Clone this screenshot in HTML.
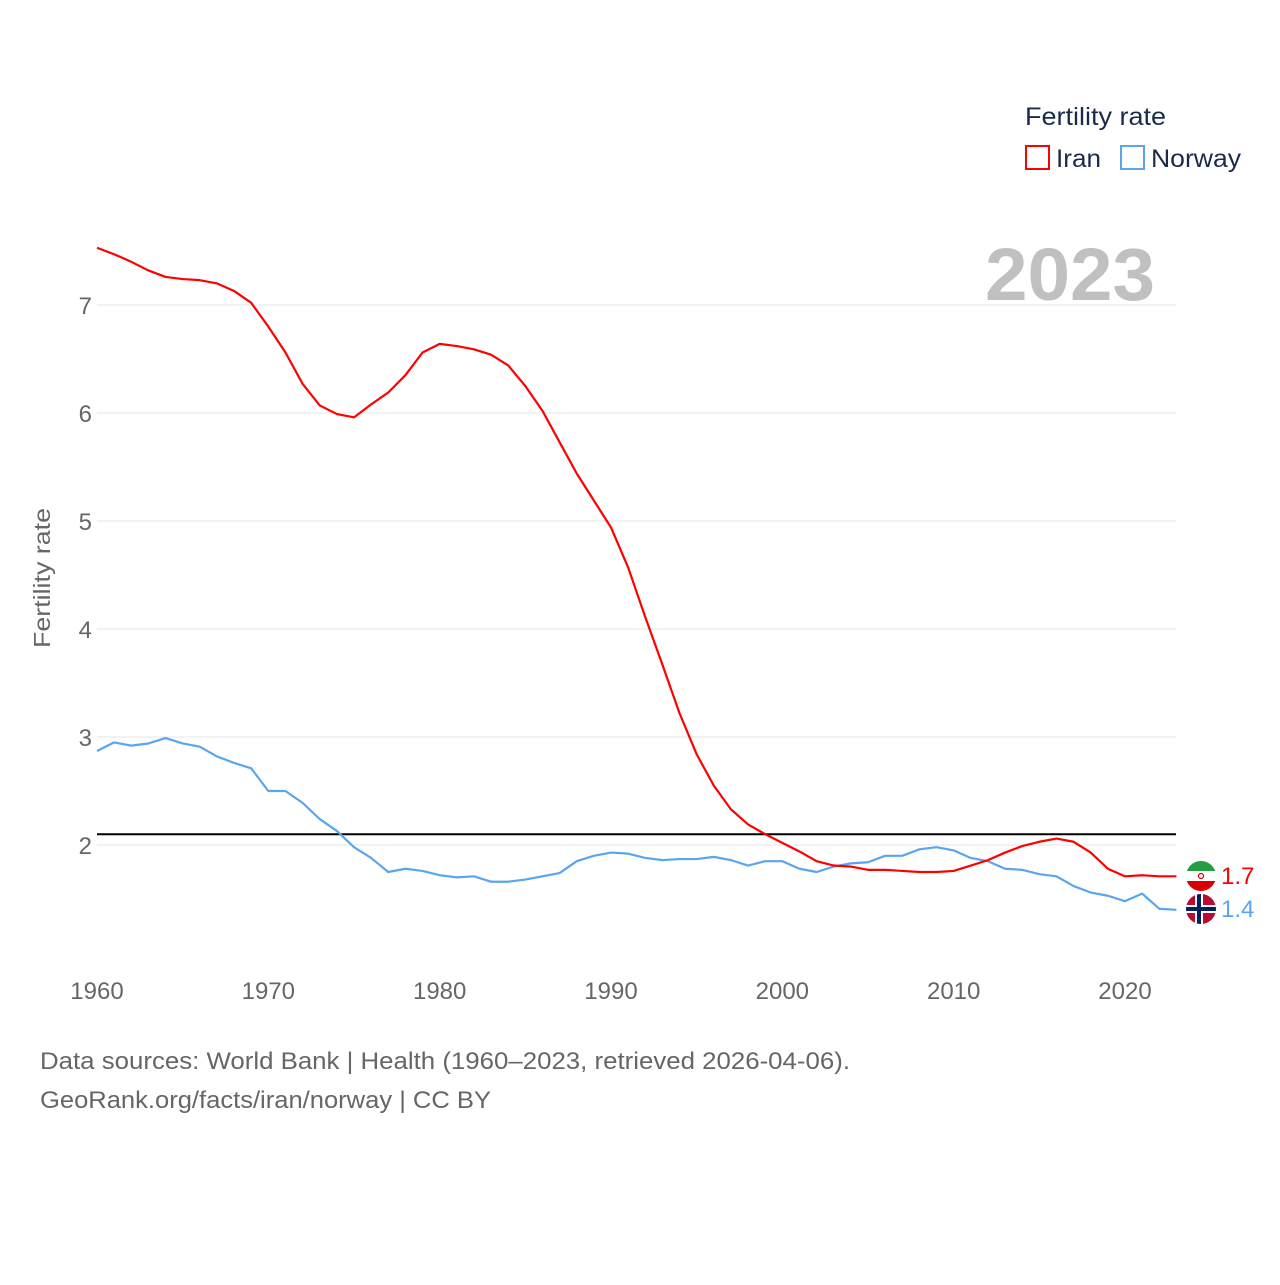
<!DOCTYPE html>
<html><head><meta charset="utf-8"><style>
body{margin:0;background:#fff;width:1280px;height:1280px;overflow:hidden;font-family:"Liberation Sans",sans-serif}
</style></head><body>
<svg id="chart" width="1280" height="1280" xmlns="http://www.w3.org/2000/svg" font-family="Liberation Sans, sans-serif">
<text x="1025" y="125" font-size="25" fill="#1a2b4a" textLength="141" lengthAdjust="spacingAndGlyphs">Fertility rate</text>
<g><rect x="1026" y="146" width="23" height="23" fill="none" stroke="#ff0000" stroke-width="2"/><text x="1056" y="167" font-size="25" fill="#1a2b4a" textLength="45" lengthAdjust="spacingAndGlyphs">Iran</text></g>
<g><rect x="1121" y="146" width="23" height="23" fill="none" stroke="#5aa5ee" stroke-width="2"/><text x="1151" y="167" font-size="25" fill="#1a2b4a" textLength="90" lengthAdjust="spacingAndGlyphs">Norway</text></g>
<text x="1155" y="300" font-size="74" font-weight="bold" fill="#c0c0c0" text-anchor="end" textLength="170" lengthAdjust="spacingAndGlyphs">2023</text>
<text transform="translate(50,578) rotate(-90)" font-size="23" fill="#666" text-anchor="middle" textLength="140" lengthAdjust="spacingAndGlyphs">Fertility rate</text>
<g id="grid"></g><g id="ticks"></g><g id="lines"></g>
<text x="40" y="1069" font-size="24" fill="#666" textLength="810" lengthAdjust="spacingAndGlyphs">Data sources: World Bank | Health (1960–2023, retrieved 2026-04-06).</text>
<text x="40" y="1108" font-size="24" fill="#666" textLength="451" lengthAdjust="spacingAndGlyphs">GeoRank.org/facts/iran/norway | CC BY</text>
</svg>
<script>
const years=[];for(let y=1960;y<=2023;y++)years.push(y);
const iran=[7.53,7.47,7.40,7.32,7.26,7.24,7.23,7.20,7.13,7.02,6.80,6.56,6.27,6.07,5.99,5.96,6.08,6.19,6.35,6.56,6.64,6.62,6.59,6.54,6.44,6.25,6.02,5.73,5.44,5.19,4.94,4.57,4.11,3.67,3.22,2.84,2.55,2.33,2.19,2.10,2.02,1.94,1.85,1.81,1.80,1.77,1.77,1.76,1.75,1.75,1.76,1.81,1.86,1.93,1.99,2.03,2.06,2.03,1.93,1.78,1.71,1.72,1.71,1.71];
const norway=[2.87,2.95,2.92,2.94,2.99,2.94,2.91,2.82,2.76,2.71,2.50,2.50,2.39,2.24,2.13,1.98,1.88,1.75,1.78,1.76,1.72,1.70,1.71,1.66,1.66,1.68,1.71,1.74,1.85,1.90,1.93,1.92,1.88,1.86,1.87,1.87,1.89,1.86,1.81,1.85,1.85,1.78,1.75,1.80,1.83,1.84,1.90,1.90,1.96,1.98,1.95,1.88,1.85,1.78,1.77,1.73,1.71,1.62,1.56,1.53,1.48,1.55,1.41,1.40];
const yTicks=[2,3,4,5,6,7];
const xTicks=[1960,1970,1980,1990,2000,2010,2020];
const replacement=2.1;
const NS="http://www.w3.org/2000/svg";
const X=y=>97+(y-1960)*(1028/60);
const Y=v=>1061-v*108;
function mk(t,a,p){const e=document.createElementNS(NS,t);for(const k in a)e.setAttribute(k,a[k]);p.appendChild(e);return e;}
const grid=document.getElementById('grid'),ticks=document.getElementById('ticks'),lines=document.getElementById('lines');
yTicks.forEach(v=>{
 const l=mk('line',{x1:97,x2:1176,y1:Y(v),y2:Y(v),stroke:'#e6e6e6','stroke-width':1},grid);
 
 
 const t=mk('text',{x:92,y:Y(v)+9,'font-size':24,fill:'#666','text-anchor':'end'},ticks);t.textContent=v;
 
 
});
xTicks.forEach(v=>{
 const t=mk('text',{x:X(v),y:999,'font-size':24,fill:'#666','text-anchor':'middle'},ticks);t.textContent=v;
 
 
});
const rl=mk('line',{x1:97,x2:1176,y1:Y(replacement),y2:Y(replacement),stroke:'#000','stroke-width':2},lines);


function series(d,c,n){
 const p=mk('polyline',{points:d.map((v,i)=>X(years[i])+','+Y(v)).join(' '),fill:'none',stroke:c,'stroke-width':2.2,'stroke-linejoin':'round'},lines);
 
 
}
series(norway,'#5aa5ee','norway');
series(iran,'#ff0000','iran');
function flag(d,c,n,cy){
 const g=mk('g',{},lines);
 
 
 const cx=1201;
 const cid='clip'+n;const cp=mk('clipPath',{id:cid},g);mk('circle',{cx:cx,cy:cy,r:15},cp);
 const fg=mk('g',{'clip-path':'url(#'+cid+')'},g);
 if(n==='iran'){mk('rect',{x:cx-15,y:cy-15,width:30,height:10,fill:'#239f40'},fg);mk('rect',{x:cx-15,y:cy-5,width:30,height:10,fill:'#fff'},fg);mk('rect',{x:cx-15,y:cy+5,width:30,height:10,fill:'#da0000'},fg);mk('circle',{cx:cx,cy:cy,r:2.5,fill:'none',stroke:'#da0000','stroke-width':1.2},fg);}
 else{mk('rect',{x:cx-15,y:cy-15,width:30,height:30,fill:'#ba0c2f'},fg);mk('rect',{x:cx-15,y:cy-4,width:30,height:8,fill:'#fff'},fg);mk('rect',{x:cx-6,y:cy-15,width:8,height:30,fill:'#fff'},fg);mk('rect',{x:cx-15,y:cy-2,width:30,height:4,fill:'#00205b'},fg);mk('rect',{x:cx-4,y:cy-15,width:4,height:30,fill:'#00205b'},fg);}
 const t=mk('text',{x:1221,y:cy+8,'font-size':24,fill:c},g);t.textContent=d[d.length-1].toFixed(1);
}
flag(iran,'#ff0000','iran',876);
flag(norway,'#5aa5ee','norway',909);
</script>
</body></html>
